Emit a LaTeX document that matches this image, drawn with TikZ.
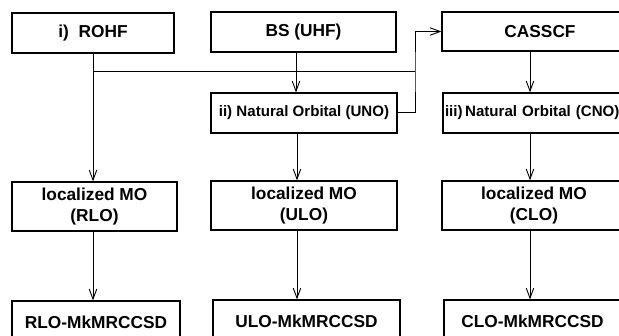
\documentclass[tikz,border=0pt]{standalone}
\usepackage{fontspec}
\setmainfont{Liberation Sans}
\usetikzlibrary{arrows.meta}
\begin{document}
\begin{tikzpicture}[x=1pt,y=-1pt,
  box/.style={draw,line width=1.3pt,font=\fontsize{17.3}{20.5}\selectfont\bfseries,align=center,inner sep=0pt},
  small/.style={font=\fontsize{15.1}{17}\selectfont\bfseries},
  arr/.style={line width=1pt,-{Straight Barb[length=10pt,width=7.5pt,line width=0.9pt]}},
  ln/.style={line width=1pt}]
\clip (0,0) rectangle (619,336);
\fill[white] (0,0) rectangle (619,336);
\node[box,minimum width=162,minimum height=40] (rohf) at (93,33) {i)\ \ ROHF};
\node[box,minimum width=185,minimum height=40] (bs) at (303.5,32) {BS (UHF)};
\node[box,minimum width=196,minimum height=39] (cas) at (540,31.5) {CASSCF};
\node[box,small,minimum width=186,minimum height=40] (uno) at (304,113) {ii) Natural Orbital (UNO)};
\node[box,small,text width=190,align=left,inner xsep=2,minimum height=40] (cno) at (540,113) {iii)\,Natural Orbital (CNO)};
\node[box,minimum width=165,minimum height=49] (rlo) at (94.5,206.5) {localized MO\\(RLO)};
\node[box,minimum width=186,minimum height=49] (ulo) at (304,205.5) {localized MO\\(ULO)};
\node[box,minimum width=184,minimum height=49] (clo) at (534,205.5) {localized MO\\(CLO)};
\node[box,minimum width=168,minimum height=42] (rcc) at (96,322) {RLO-MkMRCCSD};
\node[box,minimum width=187,minimum height=42] (ucc) at (306.5,321) {ULO-MkMRCCSD};
\node[box,minimum width=177,minimum height=42] (ccc) at (532.5,321) {CLO-MkMRCCSD};
\coordinate (j) at (415,72);
\draw[arr] (rohf.south) -- (rohf.south |- rlo.north);
\draw[ln] (rohf.south |- j) -- (j);
\draw[arr] (uno.east) -| (j) |- (cas.west);
\draw[arr] (bs.south -| 296,0) -- (296,0 |- uno.north);
\draw[arr] (uno.south -| 297,0) -- (297,0 |- ulo.north);
\draw[arr] (cas.south -| 530,0) -- (530,0 |- cno.north);
\draw[arr] (cno.south -| 530,0) -- (530,0 |- clo.north);
\draw[arr] (rlo.south -| 93,0) -- (93,0 |- rcc.north);
\draw[arr] (ulo.south -| 297,0) -- (297,0 |- ucc.north);
\draw[arr] (clo.south -| 530,0) -- (530,0 |- ccc.north);
\end{tikzpicture}
\end{document}
